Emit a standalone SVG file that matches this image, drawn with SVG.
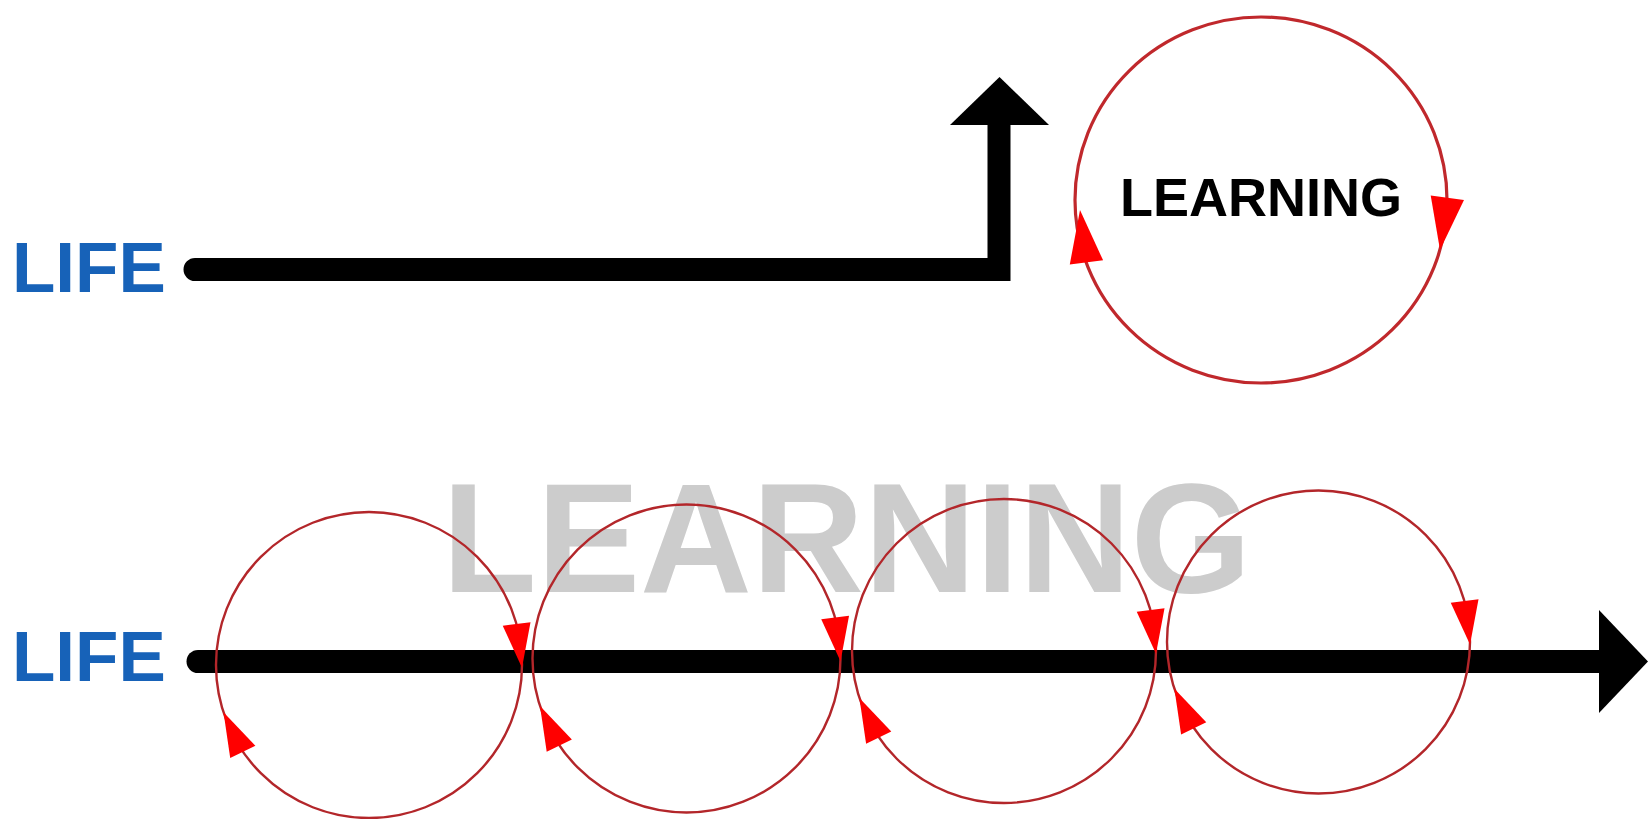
<svg xmlns="http://www.w3.org/2000/svg" xmlns:xlink="http://www.w3.org/1999/xlink" width="1652" height="819" viewBox="0 0 1652 819">
  <style>
    .life { font-family: "Liberation Sans", Arial, sans-serif; font-weight: bold; font-size: 71px; fill: #1762b8; }
    .learn { font-family: "Liberation Sans", Arial, sans-serif; font-weight: bold; fill: #000; }
    .bg { font-family: "Liberation Sans", Arial, sans-serif; font-weight: bold; font-size: 155px; fill: #cccccc; }
    .axis { fill: none; stroke: #000; stroke-width: 23; stroke-linecap: round; stroke-linejoin: miter; }
    .head { fill: #000; }
    .loop { fill: none; stroke: #b3262a; stroke-width: 2.4; }
    .loopTop { fill: none; stroke: #c0282c; stroke-width: 3.2; }
    .ah { fill: #ff0000; }
  </style>
  <defs>
    <path id="ah" d="M0,0 L-44,-14 L-44,14 Z"/>
  </defs>
  <rect width="1652" height="819" fill="#ffffff"/>

  <!-- background label -->
  <g id="learning-bg">
    <text class="bg" x="442" y="592">LEARNING</text>
  </g>

  <!-- labels -->
  <g id="life-top">
    <text class="life" x="12" y="292">LIFE</text>
  </g>
  <g id="life-bottom">
    <text class="life" x="12" y="681">LIFE</text>
  </g>

  <!-- connectors -->
  <g id="connectors">
    <path class="axis" d="M195,269.5 H999 V126"/>
    <polygon class="head" points="950,125 1049,125 999.5,77"/>
    <path class="axis" d="M198,661.5 H1600"/>
    <polygon class="head" points="1599,610 1599,713 1648,661.5"/>
  </g>

  <!-- top learning loop -->
  <g id="learning-top">
    <ellipse class="loopTop" cx="1261" cy="200" rx="186" ry="183"/>
    <text class="learn" x="1261" y="216" font-size="54" text-anchor="middle">LEARNING</text>
    <use xlink:href="#ah" class="ah" transform="translate(1440,250) rotate(98) scale(1.2)"/>
    <use xlink:href="#ah" class="ah" transform="translate(1080,210) rotate(263) scale(1.2)"/>
  </g>

  <!-- bottom learning loops -->
  <g id="loop-1">
    <circle class="loop" cx="369" cy="665" r="153"/>
    <use xlink:href="#ah" class="ah" transform="translate(522,667.7) rotate(83)"/>
    <use xlink:href="#ah" class="ah" transform="translate(223.5,712.3) rotate(244)"/>
  </g>
  <g id="loop-2">
    <circle class="loop" cx="686.5" cy="658.5" r="154"/>
    <use xlink:href="#ah" class="ah" transform="translate(840.5,661.2) rotate(83)"/>
    <use xlink:href="#ah" class="ah" transform="translate(540,706.1) rotate(244)"/>
  </g>
  <g id="loop-3">
    <circle class="loop" cx="1004" cy="651" r="152"/>
    <use xlink:href="#ah" class="ah" transform="translate(1156,653.7) rotate(83)"/>
    <use xlink:href="#ah" class="ah" transform="translate(859.4,698) rotate(244)"/>
  </g>
  <g id="loop-4">
    <circle class="loop" cx="1318.5" cy="642" r="151.5"/>
    <use xlink:href="#ah" class="ah" transform="translate(1470,644.6) rotate(83)"/>
    <use xlink:href="#ah" class="ah" transform="translate(1174.4,688.8) rotate(244)"/>
  </g>
</svg>
